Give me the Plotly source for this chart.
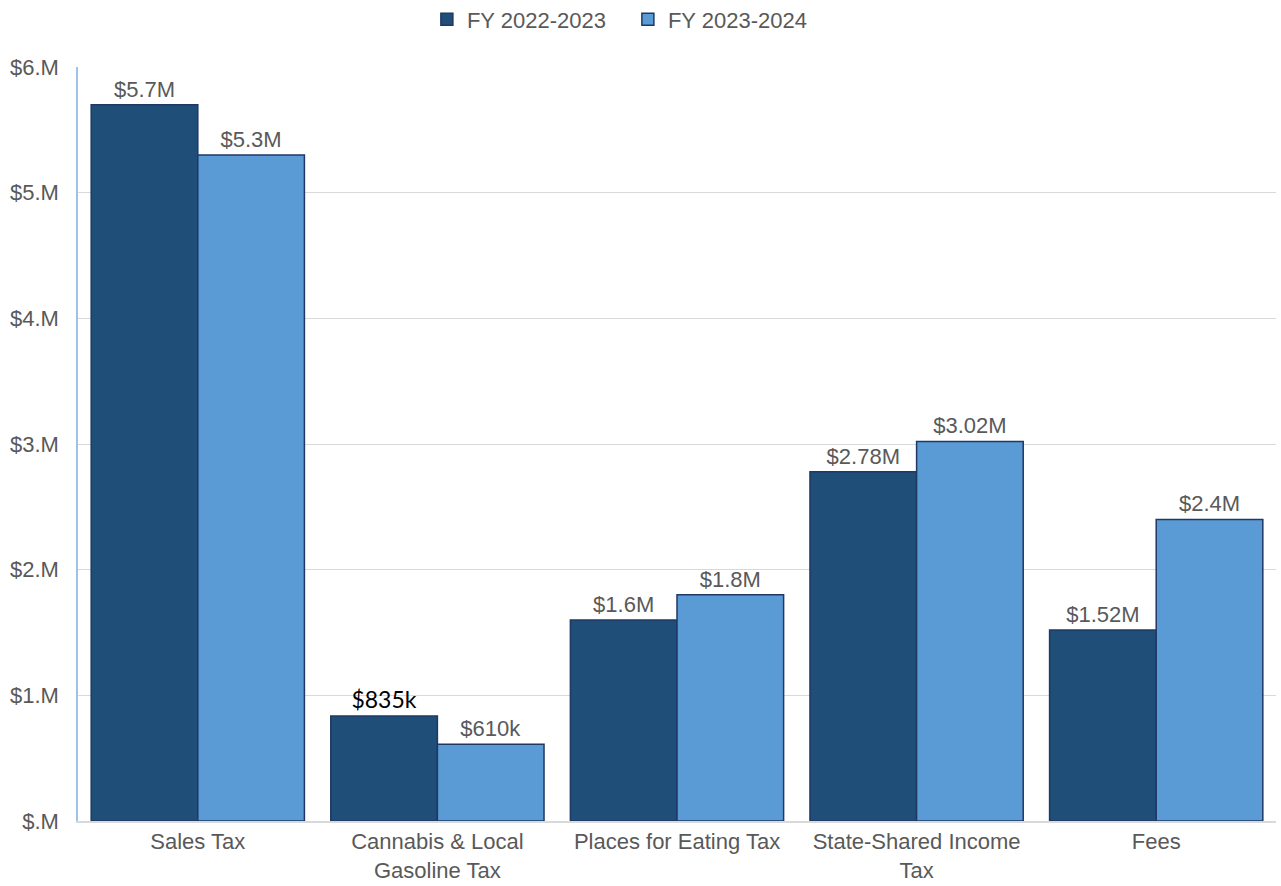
import plotly.graph_objects as go

categories = ["Sales Tax", "Cannabis & Local<br>Gasoline Tax", "Places for Eating Tax",
              "State-Shared Income<br>Tax", "Fees"]
fy2223 = [5.7, 0.835, 1.6, 2.78, 1.52]
fy2324 = [5.3, 0.61, 1.8, 3.02, 2.4]
labels2223 = ["$5.7M", "$835k", "$1.6M", "$2.78M", "$1.52M"]
labels2324 = ["$5.3M", "$610k", "$1.8M", "$3.02M", "$2.4M"]
tick_vals = [0, 1, 2, 3, 4, 5, 6]
tick_text = ["$.M", "$1.M", "$2.M", "$3.M", "$4.M", "$5.M", "$6.M"]

FONT = "Liberation Sans, Arial, sans-serif"
GREY = "#595959"
FS = 22

fig = go.Figure()
fig.add_trace(go.Bar(
    name="FY 2022-2023", x=categories, y=fy2223, text=labels2223,
    textposition="outside", cliponaxis=False,
    textfont=dict(family=[FONT, "Lato, Carlito, sans-serif", FONT, FONT, FONT],
                  size=[FS, 23, FS, FS, FS],
                  color=[GREY, "#000000", GREY, GREY, GREY]),
    marker=dict(color="#1F4E79", line=dict(color="#1F3864", width=1.5)),
))
fig.add_trace(go.Bar(
    name="FY 2023-2024", x=categories, y=fy2324, text=labels2324,
    textposition="outside", cliponaxis=False,
    textfont=dict(family=FONT, size=FS, color=GREY),
    marker=dict(color="#5B9BD5", line=dict(color="#1F3864", width=1.5)),
))

fig.update_layout(
    width=1281, height=886,
    margin=dict(l=78, r=5, t=67, b=65, autoexpand=False),
    paper_bgcolor="white", plot_bgcolor="white",
    font=dict(family=FONT, size=FS, color=GREY),
    barmode="group", bargap=0.11, bargroupgap=0,
    showlegend=True,
    legend=dict(orientation="h", x=0.459, xanchor="center", y=1.063, yanchor="middle",
                font=dict(size=FS, color=GREY), itemwidth=30, traceorder="normal",
                entrywidth=156),
)
fig.update_yaxes(range=[0, 6], tickvals=tick_vals, ticktext=tick_text,
                 showgrid=True, gridcolor="#D9D9D9", gridwidth=1,
                 showline=True, linecolor="#9DC3E6", linewidth=1.5,
                 zeroline=False, ticks="", ticklabelstandoff=13,
                 tickfont=dict(size=FS, color=GREY))
fig.update_xaxes(showline=True, linecolor="#D9D9D9", linewidth=1.5,
                 ticks="", tickfont=dict(size=FS, color=GREY))

fig.write_html("out.html")
